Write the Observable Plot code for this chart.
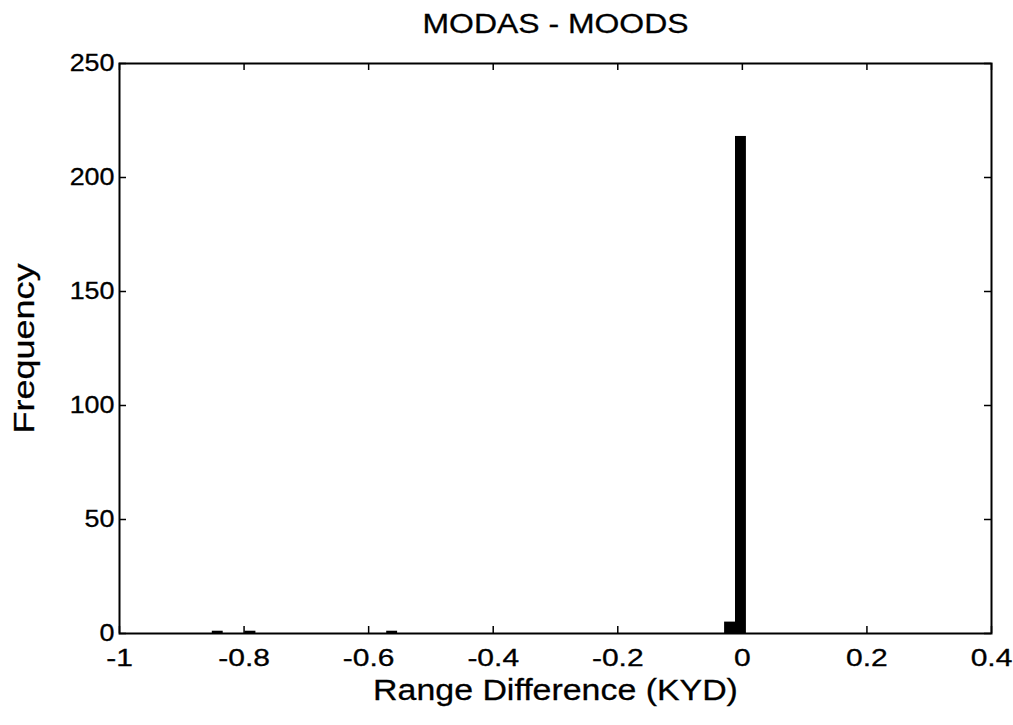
<!DOCTYPE html>
<html>
<head>
<meta charset="utf-8">
<script src="https://cdn.jsdelivr.net/npm/d3@7"></script>
<script src="https://cdn.jsdelivr.net/npm/@observablehq/plot@0.6"></script>
<style>
  html, body { margin: 0; padding: 0; background: #fff; }
  #chart svg { display: block; }
  #chart svg text { stroke: black; stroke-width: 0.3px; }
</style>
</head>
<body>
<div id="chart"></div>
<script>
// Histogram bins (edges in KYD) and counts
const binLo  = [-0.851, -0.7985, -0.571, -0.0285, -0.011];
const binHi  = [-0.8335, -0.781, -0.5535, -0.011, 0.0065];
const counts = [1, 1, 1, 5, 218];

const xTicks = [-1, -0.8, -0.6, -0.4, -0.2, 0, 0.2, 0.4];
const xTickLabels = ["-1", "-0.8", "-0.6", "-0.4", "-0.2", "0", "0.2", "0.4"];
const yTicks = [0, 50, 100, 150, 200, 250];
const yTickLabels = ["0", "50", "100", "150", "200", "250"];

const titleText = "MODAS - MOODS";
const xLabel = "Range Difference (KYD)";
const yLabel = "Frequency";

const bins = counts.map((c, i) => ({lo: binLo[i], hi: binHi[i], n: c}));

const W = 1013, H = 725;
const mL = 119, mR = 22, mT = 63, mB = 92;
const fw = W - mL - mR, fh = H - mT - mB;
const tl = 7;

const chart = Plot.plot({
  width: W,
  height: H,
  marginLeft: mL,
  marginRight: mR,
  marginTop: mT,
  marginBottom: mB,
  style: {fontFamily: "'Liberation Sans', Arial, sans-serif", fontSize: "24px", color: "black", background: "white"},
  x: {domain: [-1, 0.4], ticks: xTicks, tickSize: 0, tickPadding: 15,
      tickFormat: d => xTickLabels[xTicks.indexOf(d)] ?? "",
      label: null},
  y: {domain: [0, 250], ticks: yTicks, tickSize: 0, tickPadding: 5,
      tickFormat: d => yTickLabels[yTicks.indexOf(d)] ?? "",
      label: null},
  marks: [
    Plot.rectY(bins, {x1: "lo", x2: "hi", y: "n", fill: "black"}),
    // inward ticks on all four sides
    Plot.tickX(xTicks, {x: d => d, insetTop: fh - tl, stroke: "black", strokeWidth: 1.5}),
    Plot.tickX(xTicks, {x: d => d, insetBottom: fh - tl, stroke: "black", strokeWidth: 1.5}),
    Plot.tickY(yTicks, {y: d => d, insetRight: fw - tl, stroke: "black", strokeWidth: 1.5}),
    Plot.tickY(yTicks, {y: d => d, insetLeft: fw - tl, stroke: "black", strokeWidth: 1.5}),
    Plot.frame({stroke: "black", strokeWidth: 2}),
    Plot.text([titleText], {frameAnchor: "top", dy: -50, fontSize: 28, fill: "black", className: "wide-title"}),
    Plot.text([xLabel], {frameAnchor: "bottom", dy: 66, fontSize: 30, fill: "black", className: "wide-xlabel"}),
    Plot.text([yLabel], {frameAnchor: "left", textAnchor: "middle", dx: -95, rotate: -90, fontSize: 30, fill: "black", className: "wide-ylabel"})
  ]
});
document.getElementById("chart").appendChild(chart);

// Widen the glyphs like the reference's printed Helvetica
const stretch = (sel, k) => d3.select(chart).selectAll(sel).each(function () {
  const t = this.getAttribute("transform") || "";
  this.setAttribute("transform", t + ` scale(${k},1)`);
});
stretch("g[aria-label='x-axis tick label'] text", 1.25);
stretch("g[aria-label='y-axis tick label'] text", 1.12);
stretch(".wide-title text", 1.14);
stretch(".wide-xlabel text", 1.13);
stretch(".wide-ylabel text", 1.2);
</script>
</body>
</html>
